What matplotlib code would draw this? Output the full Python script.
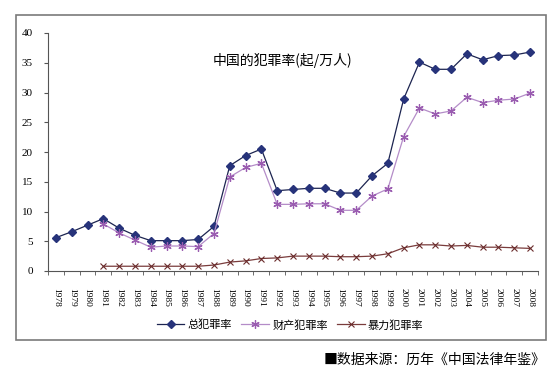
import matplotlib.pyplot as plt
import numpy as np
from matplotlib.patches import Rectangle

plt.rcParams['font.family'] = ['Noto Sans CJK SC', 'DejaVu Sans']

years = list(range(1978, 2009))
# 总犯罪率, 1978-2008
total = [5.6, 6.6, 7.7, 8.8, 7.2, 6.0, 5.1, 5.1, 5.1, 5.3, 7.5, 17.7, 19.4, 20.5, 13.5,
         13.7, 13.9, 13.9, 13.1, 13.1, 16.0, 18.1, 28.9, 35.1, 33.9, 33.9, 36.5, 35.5, 36.2, 36.3, 36.8]
# 财产犯罪率, 1981-2008
prop = [7.9, 6.4, 5.2, 4.0, 4.2, 4.2, 4.1, 6.3, 15.8, 17.4, 18.1, 11.2,
        11.2, 11.3, 11.3, 10.2, 10.2, 12.6, 13.8, 22.6, 27.4, 26.4, 26.9, 29.2, 28.3, 28.7, 28.9, 29.9]
# 暴力犯罪率, 1981-2008
viol = [0.8, 0.8, 0.8, 0.8, 0.8, 0.8, 0.8, 1.0, 1.5, 1.7, 2.1, 2.2,
        2.5, 2.5, 2.5, 2.4, 2.4, 2.5, 2.9, 3.9, 4.4, 4.4, 4.2, 4.3, 4.0, 4.0, 3.9, 3.8]

x = np.arange(len(years))
x2 = x[3:]

fig = plt.figure(figsize=(5.6, 3.74), dpi=100)
fig.patches.append(Rectangle((16/560, 1-340/374), (546-16)/560, (340-15)/374,
                             transform=fig.transFigure, fill=False,
                             edgecolor='#7a7a7a', linewidth=1.2))
ax = fig.add_axes([48/560, 1-271/374, 490/560, 238/374])

ax.plot(x, total, '-', color='#1c2450', lw=0.9, marker='D', ms=4,
        mfc='#27337a', mec='#27337a', label='总犯罪率')
ax.plot(x2, prop, '-', color='#b48cc8', lw=0.9, marker=(6, 2, 0), ms=6,
        mec='#9a5cb0', mew=0.9, label='财产犯罪率')
ax.plot(x2, viol, '-', color='#7a3c3c', lw=0.9, marker='x', ms=5,
        mec='#6a2c2c', mew=0.8, label='暴力犯罪率')

ax.set_xlim(-0.5, len(years) - 0.5)
ax.set_ylim(0, 40)
ax.set_yticks(range(0, 41, 5))
ax.set_yticklabels([str(v) for v in range(0, 41, 5)], family='Liberation Serif', fontsize=8)
ax.set_xticks(x)
ax.set_xticklabels([str(y) for y in years], rotation=-90, family='Liberation Serif', fontsize=6.8)
ax.set_xticks(np.arange(-0.5, len(years), 1), minor=True)
ax.tick_params(axis='x', which='major', length=0, pad=12)
ax.tick_params(axis='x', which='minor', length=3, direction='out', color='#555555')
ax.tick_params(axis='y', length=3, direction='out', color='#555555', pad=8)
for s in ['top', 'right']:
    ax.spines[s].set_visible(False)
for s in ['left', 'bottom']:
    ax.spines[s].set_color('#555555')
    ax.spines[s].set_linewidth(0.8)

ax.text(0.478, 0.886, '中国的犯罪率(起/万人)', transform=ax.transAxes,
        ha='center', va='center', fontsize=10)

fig.legend(loc='center', bbox_to_anchor=(0.518, 1-325/374), ncol=3, frameon=False,
           fontsize=8, handlelength=2.5, columnspacing=0.8, handletextpad=0.3)

fig.text(546/560, 1-360/374, '■数据来源：历年《中国法律年鉴》', ha='right', va='center', fontsize=10)

fig.savefig('out.png', dpi=100)
